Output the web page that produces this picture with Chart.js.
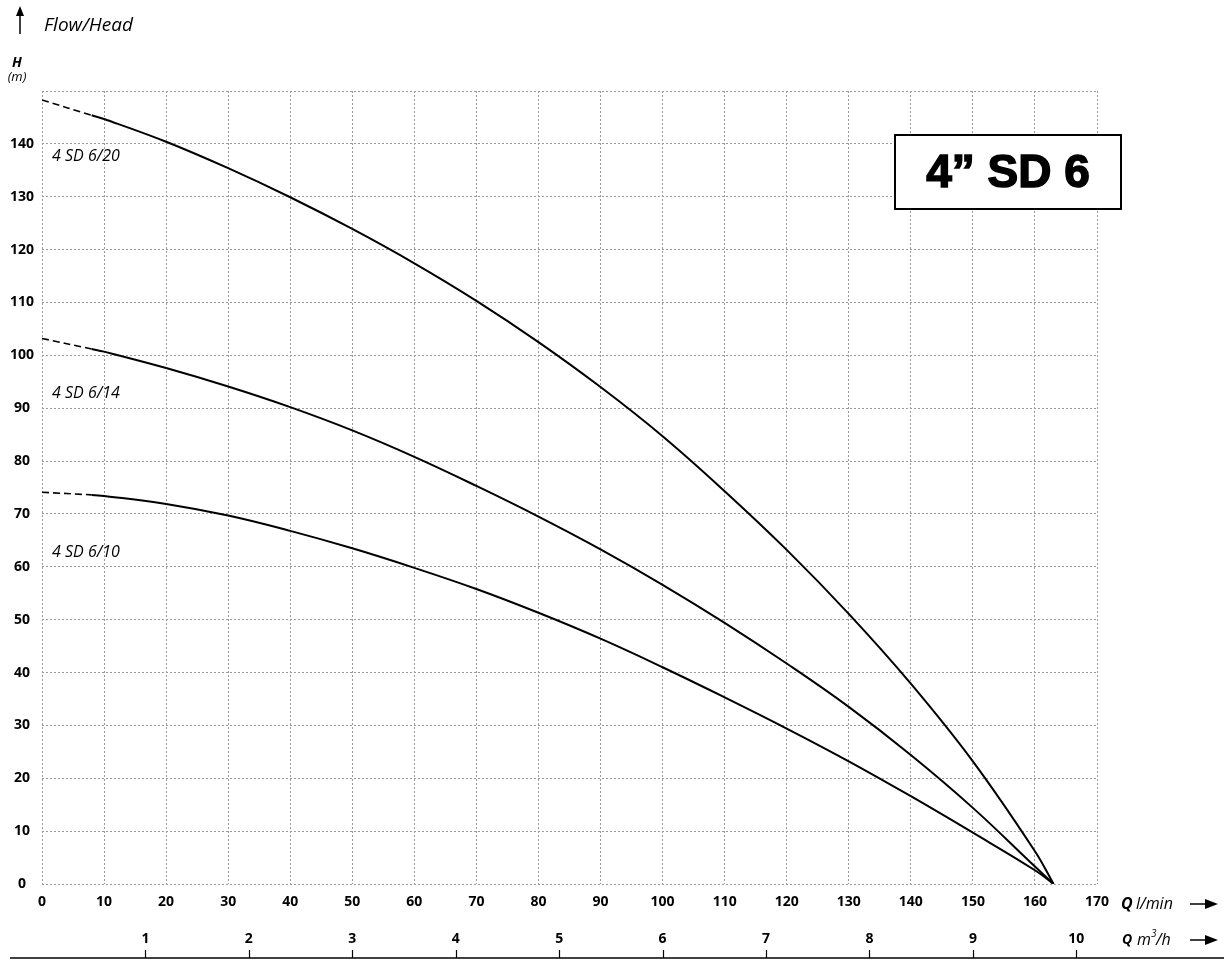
<!DOCTYPE html>
<html>
<head>
<meta charset="utf-8">
<script src="https://cdn.jsdelivr.net/npm/chart.js@4"></script>
<style>
  html, body { margin: 0; padding: 0; background: #fff; }
  #wrap { width: 1224px; height: 960px; position: relative; }
</style>
</head>
<body>
<div id="wrap"><canvas id="pump-chart"></canvas></div>
<script>
// Flow (l/min) and head (m)
const flowQ = [0, 8, 10, 20, 30, 40, 50, 60, 70, 80, 90, 100, 110, 120, 130, 140, 150, 160, 163];
const head620 = [148.3, 145.4, 144.7, 140.4, 135.4, 129.9, 123.9, 117.4, 110.3, 102.5, 94.0, 84.7, 74.3, 63.2, 51.1, 37.9, 23.2, 6.2, 0];
const head614 = [103.2, 101.2, 100.7, 97.6, 94.1, 90.2, 85.8, 80.8, 75.3, 69.5, 63.3, 56.6, 49.4, 41.7, 33.5, 24.4, 14.4, 3.3, 0];
const head610 = [74.1, 73.6, 73.4, 71.9, 69.7, 66.8, 63.5, 59.8, 55.8, 51.3, 46.4, 41.0, 35.3, 29.4, 23.2, 16.6, 9.7, 2.6, 0];
const seriesNames = ['4 SD 6/20', '4 SD 6/14', '4 SD 6/10'];
const dashedUpTo = 8; // l/min, curves are dashed below this flow

const flowTicks = [0, 10, 20, 30, 40, 50, 60, 70, 80, 90, 100, 110, 120, 130, 140, 150, 160, 170];
const m3hTicks = [1, 2, 3, 4, 5, 6, 7, 8, 9, 10];
const headMax = 150;

const GRID = '#9a9a9a';
const FONT = "'Open Sans', 'DejaVu Sans', sans-serif";

function toPoints(ys) {
  return flowQ.map((q, i) => ({ x: q, y: ys[i] }));
}

function makeDataset(name, ys) {
  return {
    label: name,
    data: toPoints(ys),
    borderColor: '#000',
    borderWidth: 2,
    pointRadius: 0,
    fill: false,
    tension: 0.4,
    segment: {
      borderDash: ctx => ctx.p1.parsed.x <= dashedUpTo ? [7, 4] : undefined,
      borderWidth: ctx => ctx.p1.parsed.x <= dashedUpTo ? 1.6 : 2
    }
  };
}

// Extra text, box and the m3/h axis line
const decorPlugin = {
  id: 'decor',
  afterDraw(chart) {
    const ctx = chart.ctx;
    const area = chart.chartArea;
    const ys = chart.scales.y;
    const x2 = chart.scales.x2;
    ctx.save();
    ctx.fillStyle = '#000';
    ctx.strokeStyle = '#000';

    // top-left arrow and title
    ctx.lineWidth = 1.5;
    ctx.beginPath();
    ctx.moveTo(20, 34); ctx.lineTo(20, 14); ctx.stroke();
    ctx.beginPath();
    ctx.moveTo(20, 6); ctx.lineTo(16, 16); ctx.lineTo(24, 16); ctx.closePath(); ctx.fill();
    ctx.font = "italic 19px " + FONT;
    ctx.textBaseline = 'middle';
    ctx.textAlign = 'left';
    ctx.fillText('Flow/Head', 44, 26);

    ctx.textAlign = 'center';
    ctx.font = "italic bold 14px " + FONT;
    ctx.fillText('H', 17, 63);
    ctx.font = "italic 13px " + FONT;
    ctx.fillText('(m)', 17, 77);

    // curve names
    ctx.textAlign = 'left';
    ctx.font = "italic 16px " + FONT;
    ctx.fillText(seriesNames[0], area.left + 10, ys.getPixelForValue(137.7));
    ctx.fillText(seriesNames[1], area.left + 10, ys.getPixelForValue(92.8));
    ctx.fillText(seriesNames[2], area.left + 10, ys.getPixelForValue(62.8));

    // model box
    const bx = 895, by = 135, bw = 226, bh = 74;
    ctx.fillStyle = '#fff';
    ctx.fillRect(bx, by, bw, bh);
    ctx.lineWidth = 2;
    ctx.strokeRect(bx, by, bw, bh);
    ctx.fillStyle = '#000';
    ctx.strokeStyle = '#000';
    ctx.font = "bold 46px 'Liberation Sans', Arial, sans-serif";
    ctx.textAlign = 'center';
    ctx.lineWidth = 1.5;
    ctx.fillText('4\u201D SD 6', bx + bw / 2, by + bh / 2 + 2);
    ctx.strokeText('4\u201D SD 6', bx + bw / 2, by + bh / 2 + 2);

    // axis unit captions with arrows
    const drawArrow = (x, y) => {
      ctx.lineWidth = 1.5;
      ctx.beginPath(); ctx.moveTo(x, y); ctx.lineTo(x + 20, y); ctx.stroke();
      ctx.beginPath(); ctx.moveTo(x + 28, y); ctx.lineTo(x + 15, y - 5); ctx.lineTo(x + 15, y + 5); ctx.closePath(); ctx.fill();
    };
    const yQ1 = 904, yQ2 = 940;
    ctx.textAlign = 'left';
    ctx.font = "italic bold 16px " + FONT;
    ctx.fillText('Q', 1121, yQ1);
    ctx.font = "italic 16px " + FONT;
    ctx.fillText('l/min', 1136, yQ1);
    drawArrow(1190, yQ1);
    ctx.font = "italic bold 14px " + FONT;
    ctx.fillText('Q', 1122, yQ2);
    ctx.font = "italic 16px " + FONT;
    ctx.fillText('m', 1137, yQ2);
    const mw = ctx.measureText('m').width;
    ctx.font = "italic 10px " + FONT;
    ctx.fillText('3', 1137 + mw, yQ2 - 6);
    ctx.font = "italic 16px " + FONT;
    ctx.fillText('/h', 1137 + mw + 5, yQ2);
    drawArrow(1190, yQ2);

    // m3/h axis line and tick marks
    ctx.lineWidth = 1.5;
    ctx.beginPath(); ctx.moveTo(10, 958); ctx.lineTo(1224, 958); ctx.stroke();
    ctx.lineWidth = 1.2;
    m3hTicks.forEach(v => {
      const px = Math.round(x2.getPixelForValue(v)) + 0.5;
      ctx.beginPath(); ctx.moveTo(px, 950); ctx.lineTo(px, 958); ctx.stroke();
    });
    ctx.restore();
  }
};

const tickFont = { family: FONT, weight: 'bold', size: 14 };

new Chart(document.getElementById('pump-chart'), {
  type: 'line',
  data: {
    datasets: [
      makeDataset(seriesNames[0], head620),
      makeDataset(seriesNames[1], head614),
      makeDataset(seriesNames[2], head610)
    ]
  },
  options: {
    responsive: true,
    maintainAspectRatio: false,
    animation: false,
    layout: { padding: { top: 91, right: 127, left: 0, bottom: 0 } },
    plugins: {
      legend: { display: false },
      tooltip: { enabled: false }
    },
    scales: {
      x: {
        type: 'linear',
        position: 'bottom',
        weight: 0,
        min: 0,
        max: 170,
        afterBuildTicks: s => { s.ticks = flowTicks.map(v => ({ value: v })); },
        afterFit: s => { s.height = 40; },
        grid: { color: GRID, lineWidth: 1, drawTicks: false },
        border: { display: false, dash: [2, 2] },
        ticks: { color: '#000', padding: 10, maxRotation: 0, font: tickFont }
      },
      x2: {
        type: 'linear',
        position: 'bottom',
        weight: 1,
        min: 0,
        max: 170 * 60 / 1000,
        afterBuildTicks: s => { s.ticks = m3hTicks.map(v => ({ value: v })); },
        afterFit: s => { s.height = 36; },
        grid: { display: false, drawTicks: false },
        border: { display: false },
        ticks: { color: '#000', padding: 7, maxRotation: 0, font: tickFont }
      },
      y: {
        type: 'linear',
        min: 0,
        max: headMax,
        afterFit: s => { s.width = 42; },
        grid: { color: GRID, lineWidth: 1, drawTicks: false },
        border: { display: false, dash: [2, 2] },
        ticks: {
          stepSize: 10,
          color: '#000',
          padding: 8,
          crossAlign: 'center',
          callback: v => v === headMax ? '' : v,
          font: tickFont
        }
      }
    }
  },
  plugins: [decorPlugin]
});
</script>
</body>
</html>
